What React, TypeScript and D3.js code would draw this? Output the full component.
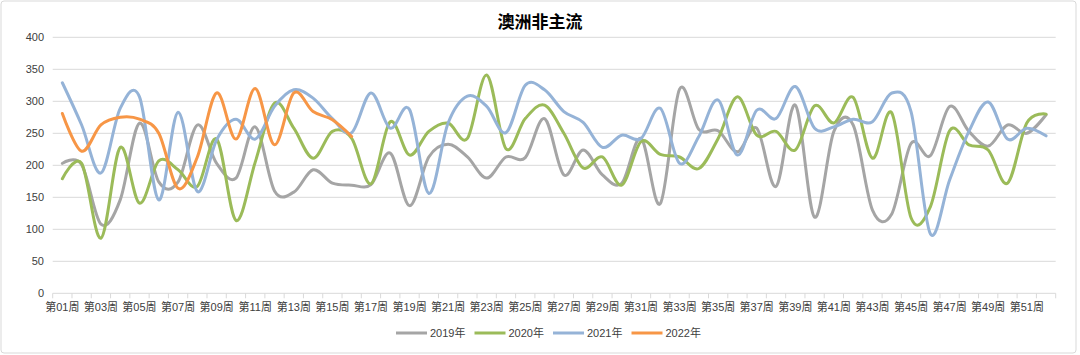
import * as d3 from "d3";

const weeks = Array.from({ length: 52 }, (_, i) => `第${String(i + 1).padStart(2, "0")}周`);

const y2019 = [203, 201, 108, 146, 266, 174, 174, 263, 203, 180, 260, 160, 158, 193, 172, 169, 170, 219, 137, 213, 233, 213, 180, 213, 212, 273, 185, 224, 185, 172, 242, 140, 319, 256, 254, 221, 258, 167, 294, 119, 253, 263, 130, 124, 234, 215, 292, 253, 230, 263, 250, 279];
const y2020 = [179, 203, 86, 228, 141, 207, 193, 167, 241, 114, 205, 297, 258, 211, 253, 242, 171, 268, 216, 253, 266, 242, 341, 226, 273, 294, 250, 196, 213, 169, 237, 217, 213, 195, 242, 307, 247, 253, 224, 293, 266, 306, 211, 282, 118, 135, 254, 232, 224, 172, 266, 280];
const y2021 = [329, 263, 188, 289, 307, 146, 283, 159, 240, 272, 241, 292, 318, 305, 273, 251, 313, 258, 287, 156, 266, 308, 292, 251, 325, 318, 284, 267, 228, 247, 242, 289, 203, 245, 302, 216, 286, 273, 323, 258, 260, 272, 268, 313, 284, 93, 177, 253, 299, 241, 258, 246];
const y2022 = [281, 222, 263, 275, 272, 250, 164, 213, 313, 241, 320, 232, 313, 284, 271, 245];

const seriesNames = ["2019年", "2020年", "2021年", "2022年"];
const seriesColors = ["#A5A5A5", "#9BBB59", "#95B3D7", "#F79646"];
const yTicks = [0, 50, 100, 150, 200, 250, 300, 350, 400];

const W = 1080;
const H = 355;
const font = "'Liberation Sans', Arial, 'Noto Sans CJK SC', sans-serif";

export default function App() {
  const x = d3.scaleBand<string>().domain(weeks).range([52.7, 1055.7]);
  const y = d3.scaleLinear().domain([0, 400]).range([293.3, 37.3]);
  const bw = x.bandwidth();
  const cx = (w: string) => (x(w) as number) + bw / 2;

  const line = d3
    .line<number>()
    .x((_, i) => cx(weeks[i]))
    .y((d) => y(d))
    .curve(d3.curveCardinal.tension(0));

  const all = [y2019, y2020, y2021, y2022];
  const legendX = [396, 474.5, 553, 631.5];

  return (
    <svg width={W} height={H} style={{ position: "absolute", left: 0, top: 0, background: "#fff" }} fontFamily={font}>
      <rect x={1} y={1} width={1075} height={352} rx={3} fill="#fff" stroke="#D9D9D9" />
      <text x={540} y={28} textAnchor="middle" fontSize={17} fontWeight="bold" fill="#000" fontFamily="'Noto Sans CJK SC', sans-serif">
        澳洲非主流
      </text>
      {yTicks.map((t) => (
        <g key={t}>
          <line x1={52.7} x2={1055.7} y1={y(t)} y2={y(t)} stroke="#D9D9D9" strokeWidth={1} />
          <text x={44} y={y(t) + 4} textAnchor="end" fontSize={11} fill="#404040">
            {t}
          </text>
        </g>
      ))}
      {weeks.map((w) => (
        <line key={w} x1={x(w)} x2={x(w)} y1={y(0)} y2={y(0) + 5} stroke="#D9D9D9" />
      ))}
      <line x1={1055.7} x2={1055.7} y1={y(0)} y2={y(0) + 5} stroke="#D9D9D9" />
      {weeks.map((w, i) =>
        i % 2 === 0 ? (
          <text key={w} x={cx(w)} y={311} textAnchor="middle" fontSize={11} fill="#404040">
            {w}
          </text>
        ) : null
      )}
      {all.map((s, k) => (
        <path key={k} d={line(s) ?? ""} fill="none" stroke={seriesColors[k]} strokeWidth={3} strokeLinecap="round" strokeLinejoin="round" />
      ))}
      {seriesNames.map((n, k) => (
        <g key={n}>
          <line x1={legendX[k]} x2={legendX[k] + 31} y1={333} y2={333} stroke={seriesColors[k]} strokeWidth={3} />
          <text x={legendX[k] + 34} y={337} fontSize={11} fill="#404040">
            {n}
          </text>
        </g>
      ))}
    </svg>
  );
}
